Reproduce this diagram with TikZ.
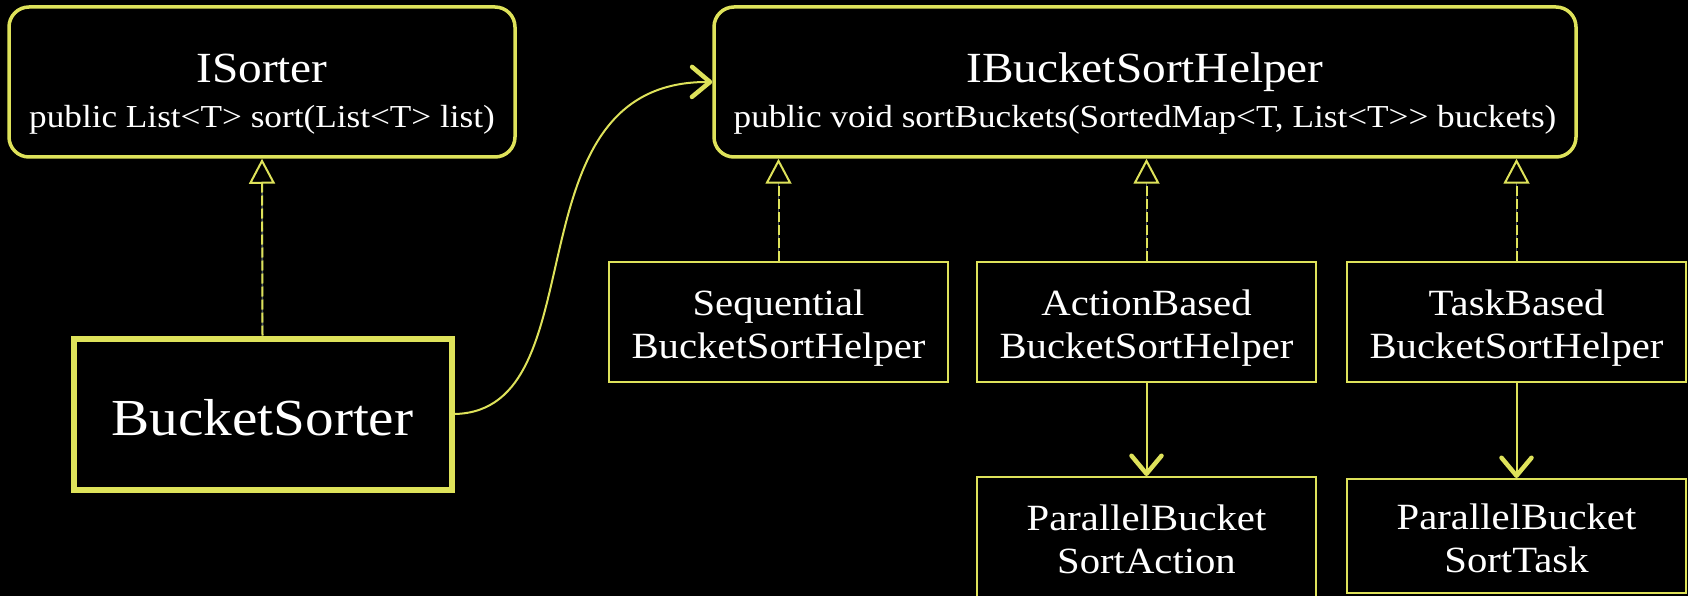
\documentclass[tikz,border=0pt]{standalone}
\usepackage{fontspec}
\setmainfont{Liberation Serif}[FakeStretch=1.1]
\usetikzlibrary{arrows.meta}

\definecolor{umlyellow}{RGB}{222,226,90}
\definecolor{dashgap}{RGB}{78,88,92}

% type sizes (1pt = one unit of the drawing grid)
\newcommand\umlHead{\fontsize{43pt}{45pt}\selectfont}
\newcommand\umlSig{\fontsize{32pt}{45pt}\selectfont}
\newcommand\umlCls{\fontsize{37pt}{43pt}\selectfont}
\newcommand\umlBig{\fontsize{52pt}{60pt}\selectfont}

% struts that keep the two text lines symmetric inside their boxes
\newcommand\ifaceTop{\rule{0pt}{56pt}}
\newcommand\ifaceBot{\rule[-10pt]{0pt}{10pt}}
\newcommand\clsTop{\rule{0pt}{39pt}}
\newcommand\clsBot{\rule[-10pt]{0pt}{10pt}}

% realization: grey underlay, then yellow dashes with a hollow triangle
\newcommand\umlRealize[2]{%
  \draw[gapline] (#1) -- (#2);
  \draw[impl] (#1) -- (#2);}

\tikzset{
  iface/.style={draw=umlyellow, line width=3.5pt, rounded corners=20pt,
    fill=black, text=white, align=center, inner sep=0pt,
    minimum height=150pt, font=\umlSig},
  cls/.style={draw=umlyellow, line width=2pt, fill=black, text=white,
    align=center, inner sep=0pt, minimum width=339pt,
    minimum height=120pt, font=\umlCls},
  mainclass/.style={draw=umlyellow, line width=6pt, fill=black, text=white,
    inner sep=0pt, minimum width=378pt, minimum height=151pt,
    text height=42pt, text depth=0pt, font=\umlBig},
  gapline/.style={draw=dashgap, line width=1.6pt, shorten >=24pt},
  impl/.style={draw=umlyellow, line width=2pt, dash pattern=on 10pt off 3pt,
    -{Triangle[open, length=25pt, width=26pt]}},
  assoc/.style={draw=umlyellow, line width=2pt,
    -{Straight Barb[length=18pt, width=30pt, line width=4.5pt, round]}}
}

\begin{document}
\begin{tikzpicture}[x=1pt, y=-1pt]
  \useasboundingbox (0,0) rectangle (1688,596);
  \fill[black] (0,0) rectangle (1688,596);

  % interfaces
  \node[iface, minimum width=506pt] (isorter) at (262,82)
    {{\umlHead\ifaceTop ISorter}\\public List<T> sort(List<T> list)\ifaceBot};
  \node[iface, minimum width=862pt] (ibsh) at (1145,82)
    {{\umlHead\ifaceTop IBucketSortHelper}\\public void sortBuckets(SortedMap<T, List<T>{}> buckets)\ifaceBot};

  % main class
  \node[mainclass] (bsorter) at (262.5,414) {BucketSorter};

  % helper implementations
  \node[cls] (seq)  at (778.5,322)  {\clsTop Sequential\\BucketSortHelper\clsBot};
  \node[cls] (act)  at (1146.5,322) {\clsTop ActionBased\\BucketSortHelper\clsBot};
  \node[cls] (task) at (1516.5,322) {\clsTop TaskBased\\BucketSortHelper\clsBot};

  % fork/join workers
  \node[cls] (pact)  at (1146.5,537) {\clsTop ParallelBucket\\SortAction\clsBot};
  \node[cls, minimum height=114pt] (ptask) at (1516.5,536)
    {\clsTop ParallelBucket\\SortTask\clsBot};

  % realizations
  \umlRealize{bsorter.north}{isorter.south}
  \umlRealize{seq.north}{ibsh.south -| seq.north}
  \umlRealize{act.north}{ibsh.south -| act.north}
  \umlRealize{task.north}{ibsh.south -| task.north}

  % usages
  \draw[assoc] (bsorter.east) .. controls (602,411) and (504,81) .. (ibsh.west);
  \draw[assoc] (act.south) -- (pact.north);
  \draw[assoc] (task.south) -- (ptask.north);
\end{tikzpicture}
\end{document}
